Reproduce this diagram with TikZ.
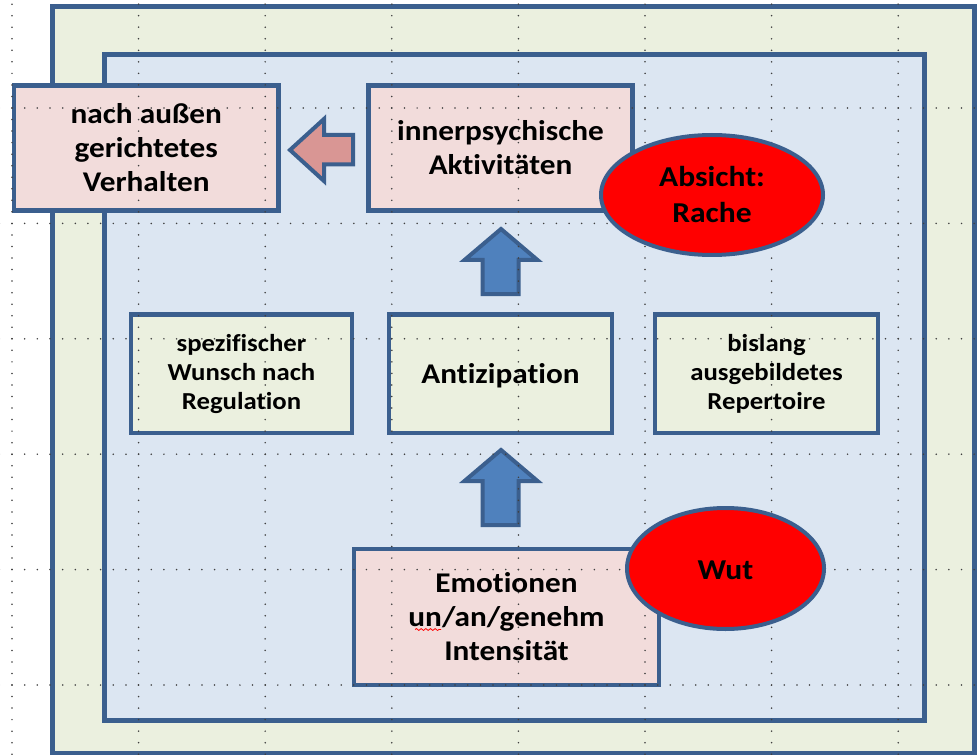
\documentclass[tikz,border=0pt]{standalone}
\usepackage{fontspec}
\newfontfamily\boxfont{Carlito}[FakeStretch=1.096, Ligatures={NoCommon}]
\usetikzlibrary{shapes.geometric,decorations.pathmorphing}

\definecolor{frame}{HTML}{3B5F8E}
\definecolor{greenfill}{HTML}{EBF0DF}
\definecolor{bluefill}{HTML}{DCE6F2}
\definecolor{pinkfill}{HTML}{F2DCDB}
\definecolor{arrowblue}{HTML}{4F81BD}
\definecolor{arrowred}{HTML}{D99694}
\definecolor{dotgray}{HTML}{404040}

\pgfdeclarelayer{bg}
\pgfdeclarelayer{grid}
\pgfsetlayers{bg,grid,main}

% shift text down without changing the size of its box
\newcommand{\lowered}[1]{\raisebox{-1.5pt}[\height][\depth]{#1}}

\begin{document}
\begin{tikzpicture}[x=0.75pt, y=-0.75pt,
  bigtext/.style={inner sep=0pt, outer sep=0pt, align=center, text=black,
    font=\boxfont\bfseries\fontsize{21.4}{25.5}\selectfont},
  smalltext/.style={bigtext, font=\boxfont\bfseries\fontsize{18.3}{21.8}\selectfont},
  frameline/.style={draw=frame, line width=3.75pt},
  boxline/.style={draw=frame, line width=3.4pt},
  pinkbox/.style={boxline, fill=pinkfill},
  greenbox/.style={boxline, fill=greenfill},
  blockarrow/.style={draw=frame, line width=3pt, line join=miter},
  bubble/.style={ellipse, draw=frame, line width=3pt, fill=red, inner sep=0pt,
    align=center, text=black, font=\boxfont\bfseries\fontsize{21.6}{27}\selectfont},
  hdots/.style={dotgray, line width=1.3pt, line cap=round, dash pattern=on 0pt off 9.495pt},
  vdots/.style={dotgray, line width=1.3pt, line cap=round, dash pattern=on 0pt off 8.655pt}
]
\useasboundingbox (0,0) rectangle (980,755);

% text boxes (outline and fill go to the background layer below)
\node[bigtext, minimum width=198.4pt, minimum height=93.75pt] (outward) at (146.25,148)
  {nach außen\\gerichtetes\\Verhalten};
\node[bigtext, minimum width=198pt, minimum height=93.75pt] (inner) at (500.5,148)
  {innerpsychische\\Aktivitäten};
\node[smalltext, minimum width=165.75pt, minimum height=88.9pt] (wish) at (241.5,373.75)
  {spezifischer\\Wunsch nach\\Regulation};
\node[bigtext, minimum width=167.25pt, minimum height=88.9pt] (antic) at (500.5,373.75)
  {\lowered{Antizipation}};
\node[smalltext, minimum width=167.25pt, minimum height=88.9pt] (repert) at (766.5,373.75)
  {bislang\\ausgebildetes\\Repertoire};
\node[bigtext, minimum width=228.75pt, minimum height=102pt] (emo) at (506.5,617)
  {Emotionen\\un/an/genehm\\Intensität};

% spell-check squiggle under "un"
\draw[red, line width=0.6pt, decorate,
  decoration={snake, amplitude=0.7pt, segment length=3.5pt}] (415,629.5) -- (441,629.5);

% block arrow tips
\coordinate (tipout) at (290,150);
\coordinate (tipup) at (501,229);
\coordinate (tiplow) at (501,450);

\begin{pgfonlayer}{bg}
  \draw[frameline, fill=greenfill] (52.5,7) rectangle (974.5,753);
  \draw[frameline, fill=bluefill] (104.5,54.5) rectangle (924,720.5);
  \draw[pinkbox] (outward.south west) rectangle (outward.north east);
  \draw[pinkbox] (inner.south west) rectangle (inner.north east);
  \draw[greenbox] (wish.south west) rectangle (wish.north east);
  \draw[greenbox] (antic.south west) rectangle (antic.north east);
  \draw[greenbox] (repert.south west) rectangle (repert.north east);
  \draw[pinkbox] (emo.south west) rectangle (emo.north east);
  % left arrow towards the outward behaviour box
  \draw[blockarrow, fill=arrowred] (tipout) -- ++(34,-31) -- ++(0,16) -- ++(29,0)
    -- ++(0,29.5) -- ++(-29,0) -- ++(0,16.5) -- cycle;
  % upward arrows
  \draw[blockarrow, fill=arrowblue] (tipup) -- ++(36.5,31) -- ++(-19,0) -- ++(0,34)
    -- ++(-36,0) -- ++(0,-34) -- ++(-18,0) -- cycle;
  \draw[blockarrow, fill=arrowblue] (tiplow) -- ++(36.5,31) -- ++(-19,0) -- ++(0,44)
    -- ++(-36,0) -- ++(0,-44) -- ++(-18,0) -- cycle;
\end{pgfonlayer}

% dotted grid
\begin{pgfonlayer}{grid}
  \foreach \gx in {12,138.6,265.2,391.8,518.4,645,771.6,898.2}
    \draw[vdots] (\gx,-7.4) -- (\gx,762);
  \foreach \gy in {108,223.4,338.8,454.2,569.6,685}
    \draw[hdots] (-0.66,\gy) -- (986,\gy);
\end{pgfonlayer}

% red bubbles
\node[bubble, minimum width=166.5pt, minimum height=90pt] (intent) at (712,195)
  {Absicht:\\Rache};
\node[bubble, minimum width=147.75pt, minimum height=90.75pt] (anger) at (725.5,568.5)
  {\lowered{Wut}};
\end{tikzpicture}
\end{document}
